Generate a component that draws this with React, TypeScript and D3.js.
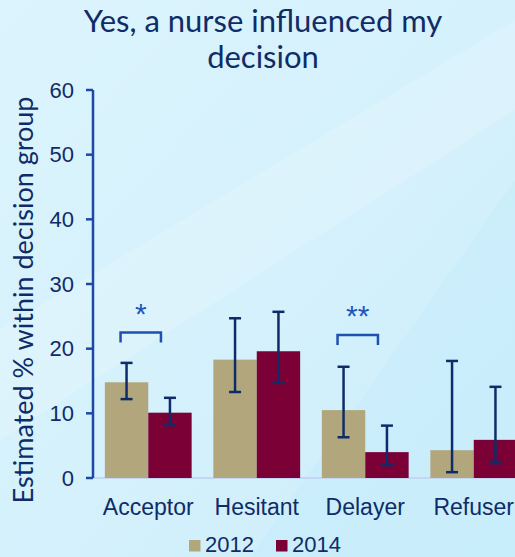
import { scaleBand, scaleLinear } from "d3";

const categories = ["Acceptor", "Hesitant", "Delayer", "Refuser"];
const years = ["2012", "2014"];
const values2012 = [14.8, 18.3, 10.5, 4.3];
const values2014 = [10.1, 19.6, 4.0, 5.9];
const low2012 = [12.2, 13.3, 6.3, 0.9];
const high2012 = [17.8, 24.7, 17.2, 18.1];
const low2014 = [8.2, 14.7, 2.0, 2.3];
const high2014 = [12.4, 25.7, 8.1, 14.1];
const yTicks = [0, 10, 20, 30, 40, 50, 60];
const sigCategories = ["Acceptor", "Delayer"];
const sigLabels = ["*", "**"];
const sigLevels = [22.5, 22.1];

const colors = { "2012": "#b2a77c", "2014": "#7a0036" };
const navy = "#0f2c68";
const axisBlue = "#1c48a6";

export default function App() {
  const width = 515;
  const height = 557;

  const x = scaleBand<string>()
    .domain(categories)
    .range([94, 528])
    .paddingInner(0.2)
    .paddingOuter(0.1);

  const xInner = scaleBand<string>()
    .domain(years)
    .range([0, x.bandwidth()]);

  const y = scaleLinear().domain([0, 60]).range([478, 90]);

  const rows = categories.map((c, i) => ({
    category: c,
    bars: [
      { year: "2012", value: values2012[i], low: low2012[i], high: high2012[i] },
      { year: "2014", value: values2014[i], low: low2014[i], high: high2014[i] },
    ],
  }));

  const center = (c: string, yr: string) =>
    (x(c) ?? 0) + (xInner(yr) ?? 0) + xInner.bandwidth() / 2;

  return (
    <svg
      width={width}
      height={height}
      style={{ position: "absolute", left: 0, top: 0 }}
    >
      <defs>
        <linearGradient id="bg" x1="0" y1="0" x2="1" y2="1">
          <stop offset="0" stopColor="#dcf4fd" />
          <stop offset="1" stopColor="#cdeefb" />
        </linearGradient>
      </defs>
      <rect width={width} height={height} fill="url(#bg)" />
      {/* soft diagonal streaks of the slide background */}
      <polygon points="0,330 515,20 515,110 0,440" fill="#ffffff" opacity={0.18} />
      <polygon points="250,557 515,180 515,557" fill="#bfeafb" opacity={0.35} />

      {/* title */}
      <g fill={navy} fontFamily="Lato, 'Open Sans', sans-serif" fontSize={31} textAnchor="middle">
        <text x={263} y={32}>Yes, a nurse influenced my</text>
        <text x={263} y={68}>decision</text>
      </g>

      {/* y axis label */}
      <text
        transform="translate(33,300) rotate(-90)"
        textAnchor="middle"
        fill={navy}
        fontFamily="Lato, 'Open Sans', sans-serif"
        fontSize={27}
      >
        Estimated % within decision group
      </text>

      {/* baseline */}
      <line x1={93} x2={width} y1={y(0)} y2={y(0)} stroke="#c3d6f2" strokeWidth={2} />

      {/* bars */}
      {rows.map((r) =>
        r.bars.map((b) => (
          <rect
            key={`bar-${r.category}-${b.year}`}
            x={(x(r.category) ?? 0) + (xInner(b.year) ?? 0)}
            y={y(b.value)}
            width={xInner.bandwidth()}
            height={y(0) - y(b.value)}
            fill={colors[b.year as "2012" | "2014"]}
          />
        ))
      )}

      {/* error bars */}
      {rows.map((r) =>
        r.bars.map((b) => {
          const cx = center(r.category, b.year);
          return (
            <g key={`err-${r.category}-${b.year}`} stroke={navy} strokeWidth={2.5}>
              <line x1={cx} x2={cx} y1={y(b.low)} y2={y(b.high)} />
              <line x1={cx - 6} x2={cx + 6} y1={y(b.high)} y2={y(b.high)} />
              <line x1={cx - 6} x2={cx + 6} y1={y(b.low)} y2={y(b.low)} />
            </g>
          );
        })
      )}

      {/* significance brackets */}
      {sigCategories.map((c, i) => {
        const x1 = center(c, "2012") - 6;
        const x2 = center(c, "2014") - 9;
        const top = y(sigLevels[i]);
        return (
          <g key={`sig-${c}`}>
            <path
              d={`M${x1},${top + 10}V${top}H${x2}V${top + 10}`}
              fill="none"
              stroke="#1f50b0"
              strokeWidth={2.5}
            />
            <text
              x={(x1 + x2) / 2}
              y={top - 9}
              textAnchor="middle"
              fill="#2156b8"
              fontFamily="Arial, 'Liberation Sans', sans-serif"
              fontSize={30}
            >
              {sigLabels[i]}
            </text>
          </g>
        );
      })}

      {/* y axis */}
      <line x1={93} x2={93} y1={y(60)} y2={y(0)} stroke={axisBlue} strokeWidth={2.5} />
      {yTicks.map((t) => (
        <g key={`tick-${t}`}>
          <line x1={86} x2={93} y1={y(t)} y2={y(t)} stroke={axisBlue} strokeWidth={2.5} />
          <text
            x={74}
            y={y(t)}
            dy="0.35em"
            textAnchor="end"
            fill={navy}
            fontFamily="Arial, 'Liberation Sans', sans-serif"
            fontSize={22}
          >
            {t}
          </text>
        </g>
      ))}

      {/* category labels */}
      {categories.map((c) => (
        <text
          key={`cat-${c}`}
          x={(x(c) ?? 0) + x.bandwidth() / 2}
          y={515}
          textAnchor="middle"
          fill={navy}
          fontFamily="Arial, 'Liberation Sans', sans-serif"
          fontSize={23}
        >
          {c}
        </text>
      ))}

      {/* legend */}
      {years.map((yr, i) => (
        <g key={`leg-${yr}`} transform={`translate(${189 + i * 87},0)`}>
          <rect x={0} y={540} width={11.5} height={11.5} fill={colors[yr as "2012" | "2014"]} />
          <text
            x={16}
            y={552}
            fill={navy}
            fontFamily="Arial, 'Liberation Sans', sans-serif"
            fontSize={22}
          >
            {yr}
          </text>
        </g>
      ))}
    </svg>
  );
}
